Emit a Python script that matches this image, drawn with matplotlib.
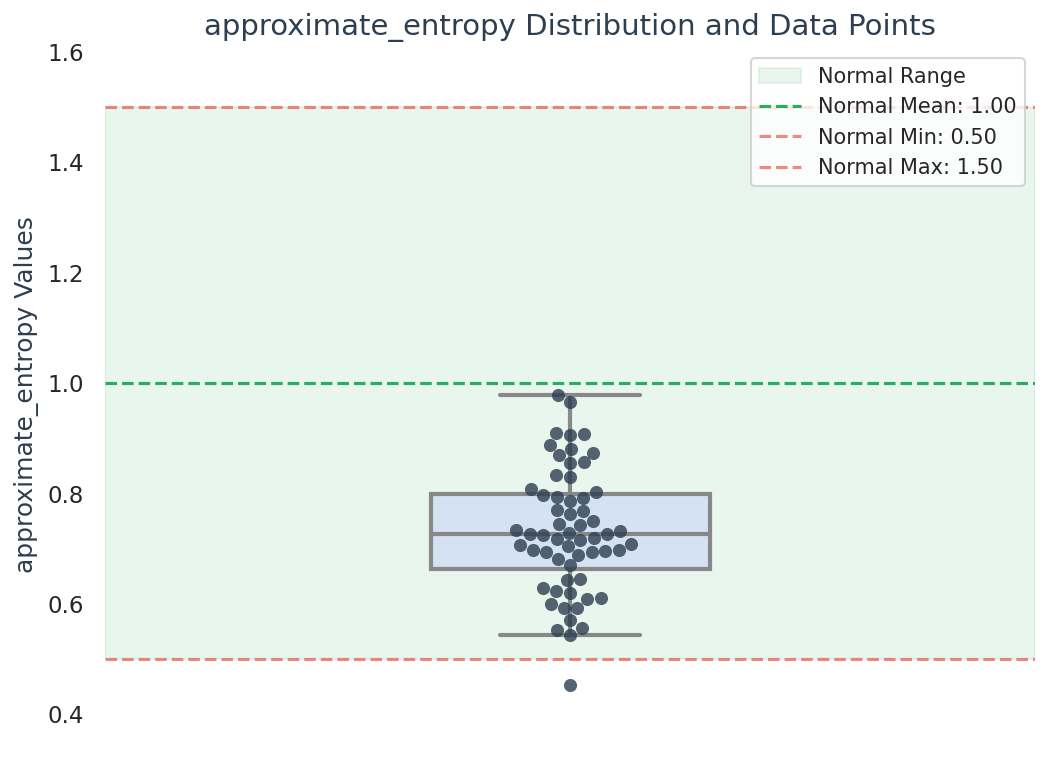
import matplotlib
matplotlib.use('Agg')
import matplotlib.pyplot as plt
import seaborn as sns
import numpy as np

# approximate_entropy readings
values = [
    0.979, 0.966, 0.910, 0.906, 0.908, 0.888, 0.874, 0.881, 0.870, 0.857,
    0.856, 0.834, 0.830, 0.808, 0.803, 0.792, 0.787, 0.794, 0.797, 0.770,
    0.763, 0.768, 0.750, 0.743, 0.745, 0.732, 0.727, 0.725, 0.716, 0.718,
    0.719, 0.727, 0.729, 0.734, 0.707, 0.698, 0.694, 0.698, 0.689, 0.694,
    0.696, 0.705, 0.709, 0.681, 0.670, 0.643, 0.645, 0.623, 0.620, 0.629,
    0.611, 0.600, 0.592, 0.592, 0.609, 0.571, 0.552, 0.556, 0.543, 0.453,
]
metric = 'approximate_entropy'
normal_min = 0.50
normal_max = 1.50
normal_mean = 1.00

sns.set_style('white')

fig = plt.figure(figsize=(1049 / 150, 757 / 150), dpi=150)
ax = fig.add_axes([105 / 1049, 1 - 742 / 757, 930 / 1049, 694 / 757])

# Normal range band and reference lines
ax.axhspan(normal_min, normal_max, color='#27ae60', alpha=0.1, label='Normal Range')
ax.axhline(normal_mean, color='#27ae60', linestyle='--', lw=1.5, label=f'Normal Mean: {normal_mean:.2f}')
ax.axhline(normal_min, color='#e74c3c', linestyle='--', lw=1.5, alpha=0.65, label=f'Normal Min: {normal_min:.2f}')
ax.axhline(normal_max, color='#e74c3c', linestyle='--', lw=1.5, alpha=0.65, label=f'Normal Max: {normal_max:.2f}')

data = np.array(values)
sns.boxplot(y=data, ax=ax, width=0.3, color='#d5e2f3', linecolor='#888888', linewidth=2,
            fliersize=0, saturation=1)
sns.swarmplot(y=data, ax=ax, color='#2c3e50', alpha=0.8, size=6.3)

ax.set_xlim(-0.5, 0.5)
ax.set_ylim(0.35, 1.607)
ax.set_xticks([])
ax.set_yticks([0.4, 0.6, 0.8, 1.0, 1.2, 1.4, 1.6])
ax.tick_params(axis='y', labelsize=11, length=0, pad=10)
ax.set_title(f'{metric} Distribution and Data Points', fontsize=14, color='#2c3e50', pad=6)
ax.set_ylabel(f'{metric} Values', fontsize=12, color='#2c3e50')
sns.despine(ax=ax, left=True, bottom=True)

ax.legend(loc='upper right', fontsize=10, framealpha=0.8)

plt.savefig('out.png', dpi=150)
print("Saved: out.png")
